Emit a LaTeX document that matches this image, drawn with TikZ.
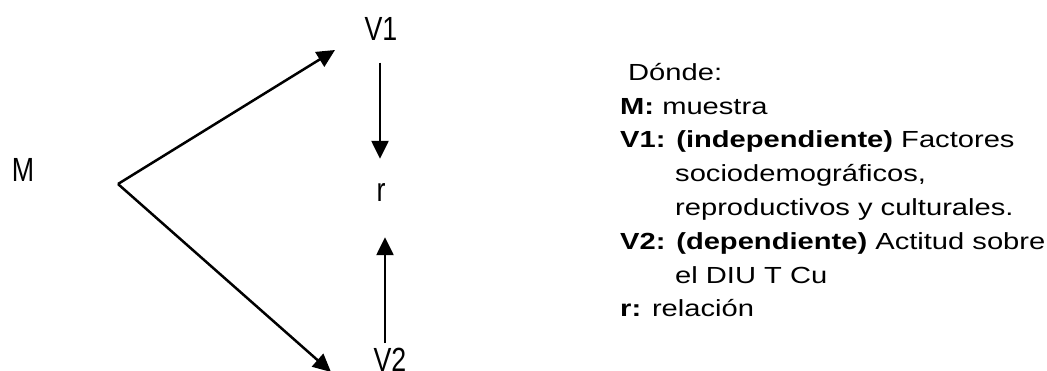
\documentclass[tikz,border=0pt]{standalone}
\usepackage{fontspec}
\setmainfont{Liberation Sans}
\newfontfamily\labelfont[FakeStretch=0.8]{Liberation Sans}
\newfontfamily\notefont[FakeStretch=1.25]{Liberation Sans}
\usetikzlibrary{arrows.meta}
\begin{document}
\begin{tikzpicture}[x=1pt, y=1pt,
        arr/.style={line width=2.5pt, -{Triangle[length=18pt,width=17pt]}},
        lbl/.style={inner sep=0pt, font=\labelfont\fontsize{33.5}{40}\selectfont},
        note/.style={inner sep=0pt, align=left, font=\notefont\fontsize{23.3}{33.8}\selectfont}]
        \useasboundingbox (0,0) rectangle (1047,370);
        \node[lbl] (M) at (23,200) {M};
        \node[lbl] (V1) at (381,341) {V1};
        \node[lbl] (r) at (381,178) {r};
        \node[lbl] (V2) at (390,10) {V2};
        \coordinate (vx) at ([shift={(95,-14)}]M.center);
        \coordinate (t1) at ([shift={(-46,-21)}]V1.center);
        \coordinate (t2) at ([shift={(-59,-12)}]V2.center);
        \draw[arr] (vx) -- (t1);
        \draw[arr] (vx) -- (t2);
        \draw[arr] ([xshift=-1pt,yshift=-22pt]V1.south) -- ([xshift=-1pt,yshift=24pt]r.north);
        \draw[arr] ([xshift=-5pt,yshift=5pt]V2.north) -- ([xshift=4pt,yshift=-36pt]r.south);
        \node[note, anchor=north west] (key) at (620,307) {%
                \hspace*{8pt}Dónde:\\
                \textbf{M:} muestra\\
                \textbf{V1: (independiente)} Factores\\
                \hspace*{55pt}sociodemográficos,\\
                \hspace*{55pt}reproductivos y culturales.\\
                \textbf{V2: (dependiente)} Actitud sobre\\
                \hspace*{55pt}el DIU T Cu\\
                \textbf{r:} relación};
\end{tikzpicture}
\end{document}
